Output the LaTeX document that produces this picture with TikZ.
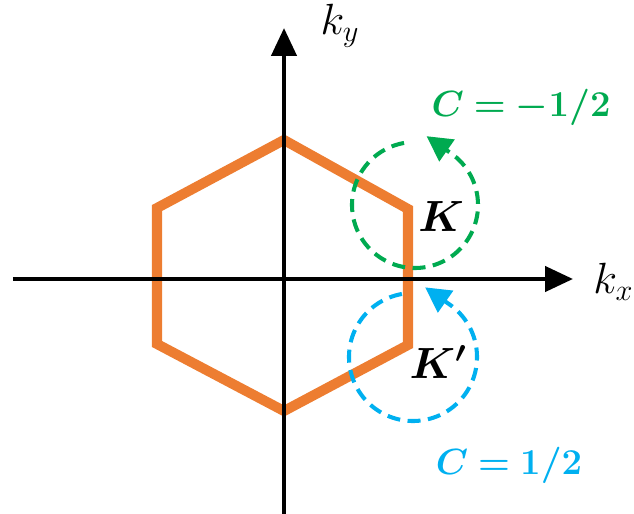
\documentclass[tikz,border=0pt]{standalone}
\usepackage{amsmath,amssymb,bm}
\usepackage{xcolor}
\usetikzlibrary{arrows.meta}
\definecolor{bzorange}{RGB}{237,125,49}
\definecolor{cgreen}{RGB}{0,170,80}
\definecolor{cblue}{RGB}{0,176,240}

\begin{document}
\begin{tikzpicture}[
    x=0.02cm,y=0.02cm,
    axis/.style={line width=2.5pt,-{Triangle[length=0.56cm,width=0.5cm]}},
    zone/.style={line width=5.7pt,bzorange,line join=miter},
    loop/.style={line width=2.3pt,dash pattern=on 0.26cm off 0.15cm,-{Triangle[length=0.5cm,width=0.52cm]}},
    axlbl/.style={font=\fontsize{24}{28}\selectfont,inner sep=0pt},
    chern/.style={font=\fontsize{22.5}{27}\selectfont,inner sep=0pt}
  ]
    \useasboundingbox (-284,-234) rectangle (350,279);
    % Brillouin zone
    \coordinate (top) at (0,139);
    \coordinate (ur) at (124,70);
    \coordinate (lr) at (124,-66);
    \coordinate (bot) at (0,-132);
    \coordinate (ll) at (-127,-65);
    \coordinate (ul) at (-127,71);
    \draw[zone] (top) -- (ur) -- (lr) -- (bot) -- (ll) -- (ul) -- cycle;
    % axes
    \coordinate (xl) at (-271,0);
    \coordinate (xr) at (289,0);
    \coordinate (yb) at (0,-240);
    \coordinate (yt) at (0,251);
    \draw[axis] (xl) -- (xr);
    \draw[axis] (yb) -- (yt);
    \node[axlbl,anchor=west] (kx) at (309,-3) {$k_x$};
    \node[axlbl] (ky) at (56,253) {$k_y$};
    % loops round K and K'
    \draw[loop,cgreen] ([shift={(100:63)}]131,74) arc[start angle=100,end angle=415,radius=63] -- ++(145:30);
    \draw[loop,cblue] ([shift={(100:64)}]129,-78) arc[start angle=100,end angle=415,radius=64] -- ++(145:30);
    \node[axlbl] (K) at (157,62) {$\bm{K}$};
    \node[axlbl] (Kp) at (154,-83) {$\bm{K'}$};
    \node[chern,text=cgreen] (cK) at (237,172) {$\bm{C = -1/2}$};
    \node[chern,text=cblue] (cKp) at (225,-186) {$\bm{C = 1/2}$};
  \end{tikzpicture}
\end{document}
